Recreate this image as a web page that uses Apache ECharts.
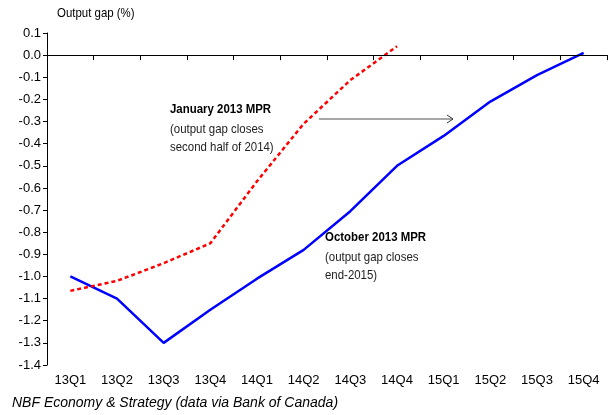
<!DOCTYPE html>
<html>
<head>
<meta charset="utf-8">
<script src="https://cdn.jsdelivr.net/npm/echarts@6/dist/echarts.min.js"></script>
<style>
html,body{margin:0;padding:0;background:#fff;}
#main{width:611px;height:415px;}
</style>
</head>
<body>
<div id="main"></div>
<script>
// 季度
var quarters = ['13Q1','13Q2','13Q3','13Q4','14Q1','14Q2','14Q3','14Q4','15Q1','15Q2','15Q3','15Q4'];
// October 2013 MPR
var octMpr = [-1.0, -1.1, -1.3, -1.15, -1.01, -0.88, -0.705, -0.50, -0.365, -0.21, -0.09, 0.01];
// January 2013 MPR
var janMpr = [-1.065, -1.02, -0.94, -0.85, -0.57, -0.31, -0.113, 0.04, null, null, null, null];
var yTicks = {min: -1.4, max: 0.1, step: 0.1};

var sans = 'Liberation Sans, Arial, sans-serif';
var chart = echarts.init(document.getElementById('main'));
var option = {
	animation: false,
	grid: {
		left: 47,
		right: 4,
		top: 33,
		bottom: 50
	},
	xAxis: {
		type: 'category',
		data: quarters,
		boundaryGap: true,
		axisLine: {
			lineStyle: {color: '#000', width: 1}
		},
		axisTick: {
			show: true,
			length: 5,
			lineStyle: {color: '#000'}
		},
		axisLabel: {
			color: '#000',
			fontSize: 13,
			fontFamily: sans,
			margin: 9
		},
		splitLine: {show: false}
	},
	yAxis: {
		type: 'value',
		min: yTicks.min,
		max: yTicks.max,
		interval: yTicks.step,
		axisLine: {
			show: true,
			onZero: false,
			lineStyle: {color: '#000', width: 1}
		},
		axisTick: {
			show: true,
			length: 4,
			lineStyle: {color: '#000'}
		},
		axisLabel: {
			color: '#000',
			fontSize: 13,
			fontFamily: sans,
			margin: 6,
			formatter: function (v) {
				return v.toFixed(1);
			}
		},
		splitLine: {show: false}
	},
	series: [{
		name: 'October 2013 MPR',
		type: 'line',
		data: octMpr,
		symbol: 'none',
		lineStyle: {color: '#0000ff', width: 2.5},
		z: 3,
		markLine: {
			silent: true,
			symbol: 'none',
			label: {show: false},
			lineStyle: {color: '#000', width: 1, type: 'solid'},
			data: [{yAxis: 0}]
		}
	}, {
		name: 'January 2013 MPR',
		type: 'line',
		data: janMpr,
		symbol: 'none',
		connectNulls: false,
		lineStyle: {color: '#ff0000', width: 2.5, type: [4, 3]},
		z: 4
	}],
	graphic: [{
		type: 'text', x: 57, y: 7, scaleX: 0.88,
		style: {text: 'Output gap (%)', font: '13px ' + sans, fill: '#000'}
	}, {
		type: 'text', x: 170, y: 103, scaleX: 0.88,
		style: {text: 'January 2013 MPR', font: 'bold 13px ' + sans, fill: '#000'}
	}, {
		type: 'text', x: 170, y: 120, scaleX: 0.88,
		style: {text: '(output gap closes\nsecond half of 2014)', font: '13px ' + sans, fill: '#222', lineHeight: 18}
	}, {
		type: 'text', x: 325, y: 231, scaleX: 0.88,
		style: {text: 'October 2013 MPR', font: 'bold 13px ' + sans, fill: '#000'}
	}, {
		type: 'text', x: 325, y: 248, scaleX: 0.88,
		style: {text: '(output gap closes\nend-2015)', font: '13px ' + sans, fill: '#222', lineHeight: 18}
	}, {
		type: 'line',
		shape: {x1: 319, y1: 119, x2: 453, y2: 119},
		style: {stroke: '#888', lineWidth: 1.5}
	}, {
		type: 'polyline',
		shape: {points: [[447, 115], [453, 119], [447, 123]]},
		style: {stroke: '#333', lineWidth: 1, fill: null}
	}, {
		type: 'text', x: 12, y: 396,
		style: {text: 'NBF Economy & Strategy (data via Bank of Canada)', font: 'italic 14px ' + sans, fill: '#000'}
	}]
};
chart.setOption(option);
window.addEventListener('resize', function () {
	chart.resize();
});
</script>
</body>
</html>
